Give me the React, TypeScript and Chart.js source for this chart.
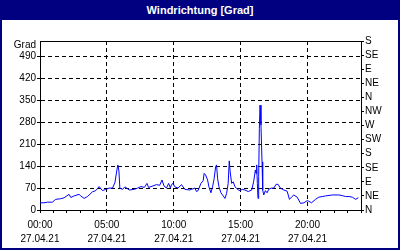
import React, { useEffect, useRef } from "react";
import { Chart, registerables } from "chart.js";

Chart.register(...registerables);

const titleText = "Windrichtung [Grad]";
const yUnitLabel = "Grad";
const timeLabels = ["00:00", "05:00", "10:00", "15:00", "20:00"];
const dateLabel = "27.04.21";
const compassLabels = ["N", "NE", "E", "SE", "S", "SW", "W", "NW", "N", "NE", "E", "SE", "S"];
const leftTicks = [0, 70, 140, 210, 280, 350, 420, 490];

// time of day in hours
const hours = [
  0, 0.3, 0.55, 0.92, 1.17, 1.55, 1.8, 2.17, 2.3, 2.55, 2.92, 3.05, 3.3, 3.55, 3.92, 4.17, 4.42, 4.67, 4.92,
  5.17, 5.42, 5.6, 5.75, 5.82, 5.9, 5.97, 6.17, 6.35, 6.67, 7.05, 7.3, 7.55, 7.8, 8.0, 8.12, 8.45, 8.7, 8.95,
  9.12, 9.27, 9.45, 9.62, 9.75, 9.83, 9.95, 10.08, 10.32, 10.58, 10.83, 11.2, 11.33, 11.58, 11.7, 11.82, 12.03,
  12.2, 12.27, 12.38, 12.53, 12.63, 12.78, 12.9, 13.02, 13.13, 13.2, 13.28, 13.38, 13.53, 13.7, 13.83, 13.95,
  14.07, 14.15, 14.22, 14.33, 14.45, 14.58, 14.7, 14.82, 14.95, 15.12, 15.32, 15.57, 15.83, 15.97, 16.05, 16.1,
  16.15, 16.2, 16.25, 16.3, 16.35, 16.4, 16.45, 16.52, 16.6, 16.65, 16.73, 16.85, 16.98, 17.1, 17.3, 17.48,
  17.65, 17.8, 17.97, 18.23, 18.48, 18.65, 18.8, 18.98, 19.23, 19.48, 19.73, 19.98, 20.1, 20.3, 20.6, 20.85,
  21.1, 21.35, 21.85, 22.35, 22.6, 22.85, 23.1, 23.35, 23.6, 23.8,
];

// wind direction in degrees
const degrees = [
  23, 23, 25, 25, 34, 36, 39, 50, 40, 45, 50, 45, 37, 43, 58, 62, 75, 62, 66,
  70, 70, 87, 128, 144, 125, 70, 66, 74, 64, 66, 70, 75, 72, 85, 72, 77, 81, 79,
  96, 77, 70, 85, 70, 81, 85, 74, 70, 81, 66, 64, 66, 70, 59, 62, 85,
  94, 117, 112, 96, 74, 55, 74, 100, 138, 144, 100, 74, 55, 45, 37, 53,
  85, 157, 121, 85, 90, 74, 70, 64, 62, 66, 64, 59, 64, 90, 112, 128,
  117, 144, 85, 37, 106, 261, 335, 272, 154, 64, 48, 62, 55, 66, 70, 70,
  82, 82, 70, 64, 60, 34, 41, 48, 41, 21, 23, 30, 28, 23, 34, 41,
  43, 45, 48, 48, 46, 43, 43, 41, 34, 39,
];

const FONT = "'Liberation Sans', Arial, sans-serif";

export default function App() {
  const canvasRef = useRef<HTMLCanvasElement | null>(null);

  useEffect(() => {
    const canvas = canvasRef.current;
    if (!canvas) return;
    Chart.defaults.font.family = FONT;
    Chart.defaults.font.size = 10;
    Chart.defaults.color = "#000";

    const gradPlugin = {
      id: "gradLabel",
      afterDraw(chart: any) {
        const s = chart.scales.y;
        const ctx = chart.ctx;
        ctx.save();
        ctx.font = `10px ${FONT}`;
        ctx.fillStyle = "#000";
        ctx.textAlign = "right";
        ctx.textBaseline = "middle";
        ctx.fillText(yUnitLabel, s.right - 4, s.getPixelForValue(s.max) + 4);
        ctx.restore();
      },
    };

    const chart = new Chart(canvas, {
      type: "line",
      data: {
        datasets: [
          {
            data: hours.map((h, i) => ({ x: h, y: degrees[i] })),
            borderColor: "#0000ff",
            borderWidth: 1,
            pointRadius: 0,
            tension: 0,
            fill: false,
          },
        ],
      },
      options: {
        animation: false,
        responsive: false,
        maintainAspectRatio: false,
        layout: { padding: 0 },
        plugins: { legend: { display: false }, tooltip: { enabled: false }, title: { display: false } },
        scales: {
          x: {
            type: "linear",
            position: "bottom",
            min: 0,
            max: 24,
            afterFit: (s: any) => { s.height = 38; },
            ticks: {
              stepSize: 1,
              autoSkip: false,
              maxRotation: 0,
              padding: 5,
              font: { size: 10, lineHeight: 1.4 },
              callback: (v: any) => {
                const n = Number(v);
                if (n % 5 === 0 && n < 24) return [timeLabels[n / 5], dateLabel];
                return "";
              },
            },
            grid: {
              color: (ctx: any) => {
                const v = ctx.tick ? ctx.tick.value : 0;
                return v % 5 === 0 && v > 0 && v < 24 ? "#000" : "rgba(0,0,0,0)";
              },
              tickColor: "#000",
              tickLength: 3,
              lineWidth: 1,
            },
            border: { display: true, color: "#000", width: 1, dash: [4, 3] },
          },
          xTop: {
            type: "linear",
            position: "top",
            min: 0,
            max: 24,
            afterFit: (s: any) => { s.height = 21; },
            ticks: { display: false },
            grid: { display: false },
            border: { display: true, color: "#000", width: 1 },
          },
          y: {
            type: "linear",
            position: "left",
            min: 0,
            max: 540,
            afterFit: (s: any) => { s.width = 38; },
            afterBuildTicks: (s: any) => { s.ticks = leftTicks.map((v) => ({ value: v })); },
            ticks: { padding: 1, font: { size: 10 } },
            grid: {
              color: (ctx: any) => (ctx.tick && ctx.tick.value > 0 ? "#000" : "rgba(0,0,0,0)"),
              tickColor: "#000",
              tickLength: 3,
              lineWidth: 1,
            },
            border: { display: true, color: "#000", width: 1, dash: [4, 3] },
          },
          y1: {
            type: "linear",
            position: "right",
            min: 0,
            max: 540,
            afterFit: (s: any) => { s.width = 37; },
            ticks: {
              stepSize: 45,
              autoSkip: false,
              padding: 1,
              font: { size: 10 },
              callback: (_v: any, i: number) => compassLabels[i],
            },
            grid: { drawOnChartArea: false, tickColor: "#000", tickLength: 3 },
            border: { display: true, color: "#000", width: 1 },
          },
        },
      },
      plugins: [gradPlugin],
    } as any);

    return () => chart.destroy();
  }, []);

  return (
    <div
      style={{
        position: "absolute",
        left: 0,
        top: 0,
        width: 400,
        height: 250,
        background: "#000080",
      }}
    >
      <div
        style={{
          position: "absolute",
          left: 0,
          top: 0,
          width: 400,
          height: 20,
          lineHeight: "20px",
          textAlign: "center",
          color: "#fff",
          fontFamily: FONT,
          fontWeight: "bold",
          fontSize: 11,
        }}
      >
        {titleText}
      </div>
      <div style={{ position: "absolute", left: 2, top: 20, width: 396, height: 228, background: "#fff" }}>
        <canvas ref={canvasRef} width={396} height={228} style={{ display: "block", width: 396, height: 228 }} />
      </div>
    </div>
  );
}
